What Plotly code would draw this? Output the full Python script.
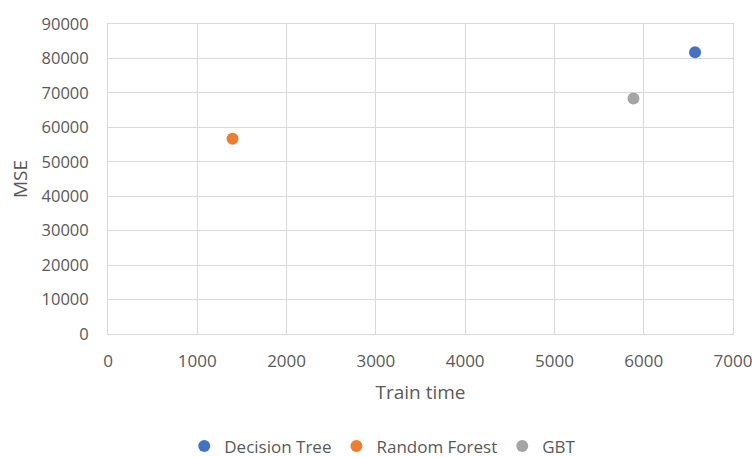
import plotly.graph_objects as go

# Model training time vs mean squared error
models = ["Decision Tree", "Random Forest", "GBT"]
train_time = [6575, 1395, 5885]
mse = [81800, 56700, 68350]
colors = ["#4472C4", "#ED7D31", "#A5A5A5"]

x_ticks = [0, 1000, 2000, 3000, 4000, 5000, 6000, 7000]
y_ticks = [0, 10000, 20000, 30000, 40000, 50000, 60000, 70000, 80000, 90000]

FONT = "Open Sans"
TEXT = "#595959"
GRID = "#D9D9D9"

fig = go.Figure()
for name, xv, yv, c in zip(models, train_time, mse, colors):
    fig.add_trace(go.Scatter(
        x=[xv], y=[yv], mode="markers", name=name,
        marker=dict(size=12, color=c, line=dict(width=0)),
    ))

fig.update_layout(
    width=752, height=457,
    margin=dict(l=108, r=19, t=24, b=123, autoexpand=False),
    paper_bgcolor="white", plot_bgcolor="white",
    font=dict(family=FONT, color=TEXT, size=16),
    showlegend=True,
    legend=dict(
        orientation="h", x=0.122, xanchor="left",
        yref="container", y=0.023, yanchor="middle",
        font=dict(size=17, color=TEXT), itemwidth=30, traceorder="normal",
    ),
    xaxis=dict(
        range=[0, 7000], tickvals=x_ticks, ticktext=[str(v) for v in x_ticks],
        showgrid=True, gridcolor=GRID, gridwidth=1, zeroline=False,
        showline=True, linecolor=GRID, linewidth=1, mirror=True,
        automargin=False, ticklabeloverflow="allow",
        ticks="", ticklabelstandoff=12, tickfont=dict(size=17, color=TEXT),
        title=dict(text="Train time", font=dict(size=19, color=TEXT), standoff=14),
    ),
    yaxis=dict(
        range=[0, 90000], tickvals=y_ticks, ticktext=[str(v) for v in y_ticks],
        showgrid=True, gridcolor=GRID, gridwidth=1, zeroline=False,
        showline=True, linecolor=GRID, linewidth=1, mirror=True,
        automargin=False, ticklabeloverflow="allow",
        ticks="", ticklabelstandoff=15, tickfont=dict(size=16.5, color=TEXT),
        title=dict(text="MSE", font=dict(size=19, color=TEXT), standoff=8),
    ),
)

fig.write_html("out.html")
